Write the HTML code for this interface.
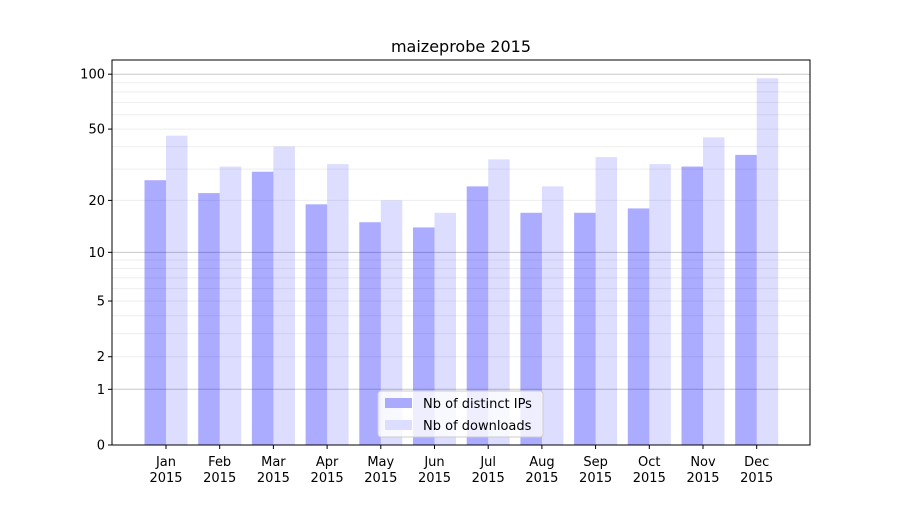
<!DOCTYPE html>
<html><head><meta charset="utf-8"><style>
body{margin:0;background:#fff;font-family:"Liberation Sans","DejaVu Sans",sans-serif;}
svg text{font-family:"DejaVu Sans","Liberation Sans",sans-serif;}
</style></head><body>
<svg id="chart" width="900" height="500" xmlns="http://www.w3.org/2000/svg"></svg>
<script>
const months=["Jan","Feb","Mar","Apr","May","Jun","Jul","Aug","Sep","Oct","Nov","Dec"];
const ips=[26,22,29,19,15,14,24,17,17,18,31,36];
const downloads=[46,31,40,32,20,17,34,24,35,32,45,95];
const yTicks=[0,1,2,5,10,20,50,100];
const yTickLabels=["0","1","2","5","10","20","50","100"];
const NS="http://www.w3.org/2000/svg";
const svg=document.getElementById('chart');
const L=112,R=810,T=60,B=445;
function y(v){return B-185*Math.log10(1+v);}
function xc(i){return 166+i*53.7;}
function mk(t,a,p){const e=document.createElementNS(NS,t);for(const k in a)e.setAttribute(k,a[k]);(p||svg).appendChild(e);return e;}
const grid=[];for(let d=1;d<=100;d*=10)for(let m=1;m<10;m++){const v=d*m;if(v<=119)grid.push(v);}
grid.forEach(v=>{const major=(v===1||v===10||v===100);
 const g=mk('line',{x1:L,x2:R,y1:y(v),y2:y(v),stroke:major?'#c8c8c8':'#eeeeee','stroke-width':1});
 });
months.forEach((m,i)=>{
 const b1=mk('rect',{x:xc(i)-21.5,y:y(ips[i]),width:21.5,height:B-y(ips[i]),fill:'#0000ff','fill-opacity':0.33});
 
 const b2=mk('rect',{x:xc(i),y:y(downloads[i]),width:21.5,height:B-y(downloads[i]),fill:'#0000ff','fill-opacity':0.133});
 
 mk('line',{x1:xc(i),x2:xc(i),y1:B,y2:B+4,stroke:'#000'});
 const t=mk('text',{x:xc(i),y:466,'text-anchor':'middle','font-size':13});t.textContent=m;
 
 const t2=mk('text',{x:xc(i),y:482,'text-anchor':'middle','font-size':13});t2.textContent='2015';
 
});
yTicks.forEach((v,i)=>{mk('line',{x1:L-4,x2:L,y1:y(v),y2:y(v),stroke:'#000'});
 const t=mk('text',{x:L-7,y:y(v)+4.5,'text-anchor':'end','font-size':13});t.textContent=yTickLabels[i];
 });
const fr=mk('rect',{x:L,y:T,width:R-L,height:B-T,fill:'none',stroke:'#000','stroke-width':1});

const ti=mk('text',{x:461,y:52,'text-anchor':'middle','font-size':16});ti.textContent='maizeprobe 2015';

const lg=mk('g',{});
mk('rect',{x:378,y:391,width:165,height:46,rx:3,fill:'#fff','fill-opacity':0.8,stroke:'#ccc'},lg);
mk('rect',{x:385,y:398,width:27,height:10,fill:'#aaaaff'},lg);
mk('rect',{x:385,y:420,width:27,height:10,fill:'#ddddff'},lg);
const l1=mk('text',{x:423,y:408,'font-size':13},lg);l1.textContent='Nb of distinct IPs';

const l2=mk('text',{x:423,y:430,'font-size':13},lg);l2.textContent='Nb of downloads';

</script>
</body></html>
